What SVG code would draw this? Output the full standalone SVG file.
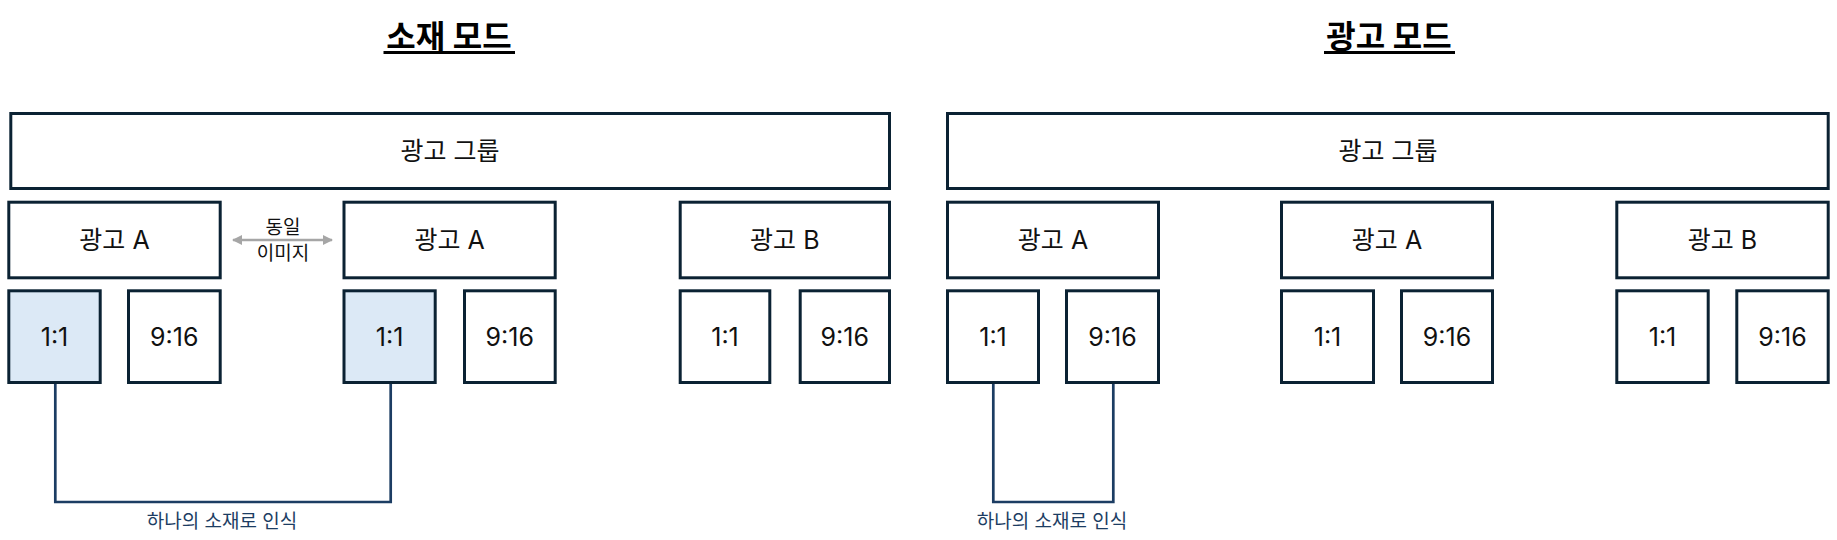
<svg xmlns="http://www.w3.org/2000/svg" width="1837" height="540" viewBox="0 0 1837 540">
<style>
  .box { fill: #ffffff; stroke: #0b2233; stroke-width: 3; }
  .hl { fill: #dce9f6; }
  .t { font-family: "Inter", "Noto Sans CJK KR", sans-serif; font-size: 25px; fill: #111111; text-anchor: middle; }
  .title { font-family: "Inter", "Noto Sans CJK KR", sans-serif; font-size: 32px; font-weight: bold; fill: #000000; text-anchor: middle; }
  .small { font-family: "Inter", "Noto Sans CJK KR", sans-serif; font-size: 19px; fill: #111111; text-anchor: middle; }
  .note { font-family: "Inter", "Noto Sans CJK KR", sans-serif; font-size: 19px; fill: #1c3d63; text-anchor: middle; }
  .conn { fill: none; stroke: #1c3d63; stroke-width: 2.7; }
  .arrow { stroke: #a6a6a6; stroke-width: 2.5; fill: none; }
</style>
<defs>
  <marker id="ah" viewBox="0 0 10 10" refX="9" refY="5" markerWidth="10" markerHeight="10" markerUnits="userSpaceOnUse" orient="auto-start-reverse">
    <path d="M0,0 L10,5 L0,10 z" fill="#a6a6a6"/>
  </marker>
</defs>

<!-- Titles -->
<g id="title-left">
  <text class="title" x="449" y="48">소재 모드</text>
  <line x1="383.5" y1="52.5" x2="515" y2="52.5" stroke="#000" stroke-width="3"/>
</g>
<g id="title-right">
  <text class="title" x="1389" y="48">광고 모드</text>
  <line x1="1324" y1="52.5" x2="1455" y2="52.5" stroke="#000" stroke-width="3"/>
</g>

<!-- Left mode -->
<g id="L-group">
  <rect class="box" x="10.8" y="113.5" width="878.7" height="75"/>
  <text class="t" x="450" y="159.5">광고 그룹</text>
</g>
<g id="L-adA1">
  <rect class="box" x="8.8" y="202.2" width="211.4" height="75.6"/>
  <text class="t" x="114.5" y="248.8">광고 A</text>
</g>
<g id="L-adA1-11">
  <rect class="box hl" x="8.8" y="290.8" width="91.4" height="91.7"/>
  <text class="t" x="54.5" y="345.8">1:1</text>
</g>
<g id="L-adA1-916">
  <rect class="box" x="128.5" y="290.8" width="91.7" height="91.7"/>
  <text class="t" x="174.3" y="345.8">9:16</text>
</g>
<g id="L-adA2">
  <rect class="box" x="344" y="202.2" width="211.2" height="75.6"/>
  <text class="t" x="449.6" y="248.8">광고 A</text>
</g>
<g id="L-adA2-11">
  <rect class="box hl" x="344" y="290.8" width="91.2" height="91.7"/>
  <text class="t" x="389.6" y="345.8">1:1</text>
</g>
<g id="L-adA2-916">
  <rect class="box" x="464.5" y="290.8" width="90.7" height="91.7"/>
  <text class="t" x="509.8" y="345.8">9:16</text>
</g>
<g id="L-adB">
  <rect class="box" x="680.2" y="202.2" width="209.3" height="75.6"/>
  <text class="t" x="784.8" y="248.8">광고 B</text>
</g>
<g id="L-adB-11">
  <rect class="box" x="680.2" y="290.8" width="89.6" height="91.7"/>
  <text class="t" x="725" y="345.8">1:1</text>
</g>
<g id="L-adB-916">
  <rect class="box" x="800.2" y="290.8" width="89.3" height="91.7"/>
  <text class="t" x="844.8" y="345.8">9:16</text>
</g>
<g id="L-same-image">
  <text class="small" x="283" y="234">동일</text>
  <text class="small" x="283" y="259.5">이미지</text>
</g>

<!-- Right mode -->
<g id="R-group">
  <rect class="box" x="947.5" y="113.5" width="880.7" height="75"/>
  <text class="t" x="1388" y="159.5">광고 그룹</text>
</g>
<g id="R-adA1">
  <rect class="box" x="947.5" y="202.2" width="211" height="75.6"/>
  <text class="t" x="1053" y="248.8">광고 A</text>
</g>
<g id="R-adA1-11">
  <rect class="box" x="947.5" y="290.8" width="91" height="91.7"/>
  <text class="t" x="993" y="345.8">1:1</text>
</g>
<g id="R-adA1-916">
  <rect class="box" x="1066.5" y="290.8" width="92" height="91.7"/>
  <text class="t" x="1112.5" y="345.8">9:16</text>
</g>
<g id="R-adA2">
  <rect class="box" x="1281.5" y="202.2" width="211" height="75.6"/>
  <text class="t" x="1387" y="248.8">광고 A</text>
</g>
<g id="R-adA2-11">
  <rect class="box" x="1281.5" y="290.8" width="92" height="91.7"/>
  <text class="t" x="1327.5" y="345.8">1:1</text>
</g>
<g id="R-adA2-916">
  <rect class="box" x="1401.5" y="290.8" width="91" height="91.7"/>
  <text class="t" x="1447" y="345.8">9:16</text>
</g>
<g id="R-adB">
  <rect class="box" x="1616.8" y="202.2" width="211.4" height="75.6"/>
  <text class="t" x="1722.5" y="248.8">광고 B</text>
</g>
<g id="R-adB-11">
  <rect class="box" x="1616.8" y="290.8" width="91.4" height="91.7"/>
  <text class="t" x="1662.5" y="345.8">1:1</text>
</g>
<g id="R-adB-916">
  <rect class="box" x="1736.8" y="290.8" width="91.4" height="91.7"/>
  <text class="t" x="1782.5" y="345.8">9:16</text>
</g>

<!-- Connectors -->
<g id="connectors">
  <line class="arrow" x1="233" y1="240" x2="332" y2="240" marker-start="url(#ah)" marker-end="url(#ah)"/>
  <path class="conn" d="M55.3,384 V502 H390.7 V384"/>
  <path class="conn" d="M993.3,384 V502 H1113.3 V384"/>
</g>
<g id="notes">
  <text class="note" x="222" y="527.5">하나의 소재로 인식</text>
  <text class="note" x="1052" y="527.5">하나의 소재로 인식</text>
</g>
</svg>
